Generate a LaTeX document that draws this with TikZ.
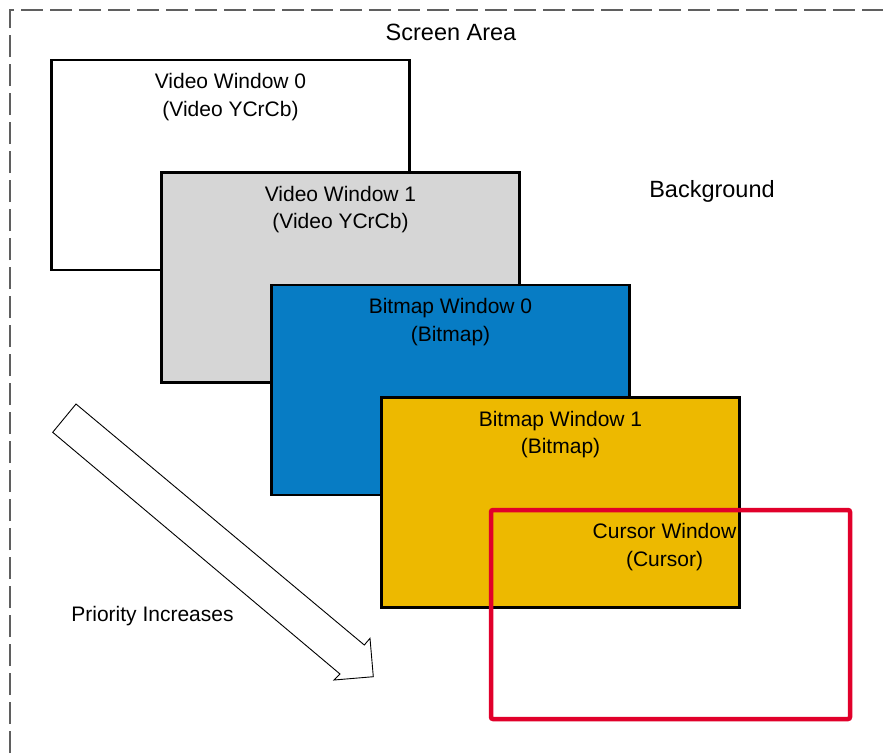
\documentclass[tikz,border=0pt]{standalone}
\usepackage{fontspec}
\setmainfont{Liberation Sans}
\usepackage{xcolor}
\usetikzlibrary{positioning}

\definecolor{winGray}{HTML}{D6D6D6}
\definecolor{winBlue}{HTML}{077CC4}
\definecolor{winGold}{HTML}{EDB900}
\definecolor{winRed}{HTML}{E1002A}
\definecolor{edgeGray}{HTML}{5F5F5F}

\begin{document}
\begin{tikzpicture}[x=1pt, y=-1pt,
    win/.style={draw=black, line width=2.5pt, minimum width=358pt, minimum height=210pt, inner sep=0pt},
    wintext/.style={inner sep=0pt, align=center, font=\fontsize{21}{27.5}\selectfont},
    bigtext/.style={inner sep=0pt, anchor=base, font=\fontsize{23.5}{27}\selectfont}]
  \useasboundingbox (0,0) rectangle (883,753);

  % Screen area border (runs off the page at right and bottom)
  \draw[edgeGray, line width=2pt, dash pattern=on 22pt off 7pt] (10,753) -- (10,10) -- (883,10);

  % Stacked windows
  \foreach \i/\fillc/\title/\sub in {0/white/{Video Window 0}/{(Video YCrCb)},
      1/winGray/{Video Window 1}/{(Video YCrCb)},
      2/winBlue/{Bitmap Window 0}/{(Bitmap)},
      3/winGold/{Bitmap Window 1}/{(Bitmap)}} {
    \node[win, fill=\fillc] (w\i) at ({230.5+110*\i}, {165+112.5*\i}) {};
    \node[wintext, below=14.5pt of w\i.north] (t\i) {\title\\\sub};
  }

  % Cursor window
  \node[draw=winRed, line width=4.5pt, rounded corners=2pt, minimum width=359pt, minimum height=209pt] (cur) at (670.5,614.5) {};
  \node[wintext, below=15.5pt of cur.north, xshift=-6pt] (tcur) {Cursor Window\\(Cursor)};

  % Labels
  \node[bigtext] (screen) at (451,40) {Screen Area};
  \node[bigtext] (bg) at (712,197.3) {Background};
  \node[inner sep=0pt, anchor=base, font=\fontsize{21}{24}\selectfont] (prio) at (152.5,621.7) {Priority Increases};

  % Priority arrow
  \draw[black, line width=0.9pt, fill=white, line join=miter]
    (76,404) -- (364.3,645) -- (370,638.3) -- (373.3,676.7) -- (334,680) -- (340,674) -- (52.7,432.3) -- cycle;
\end{tikzpicture}
\end{document}
